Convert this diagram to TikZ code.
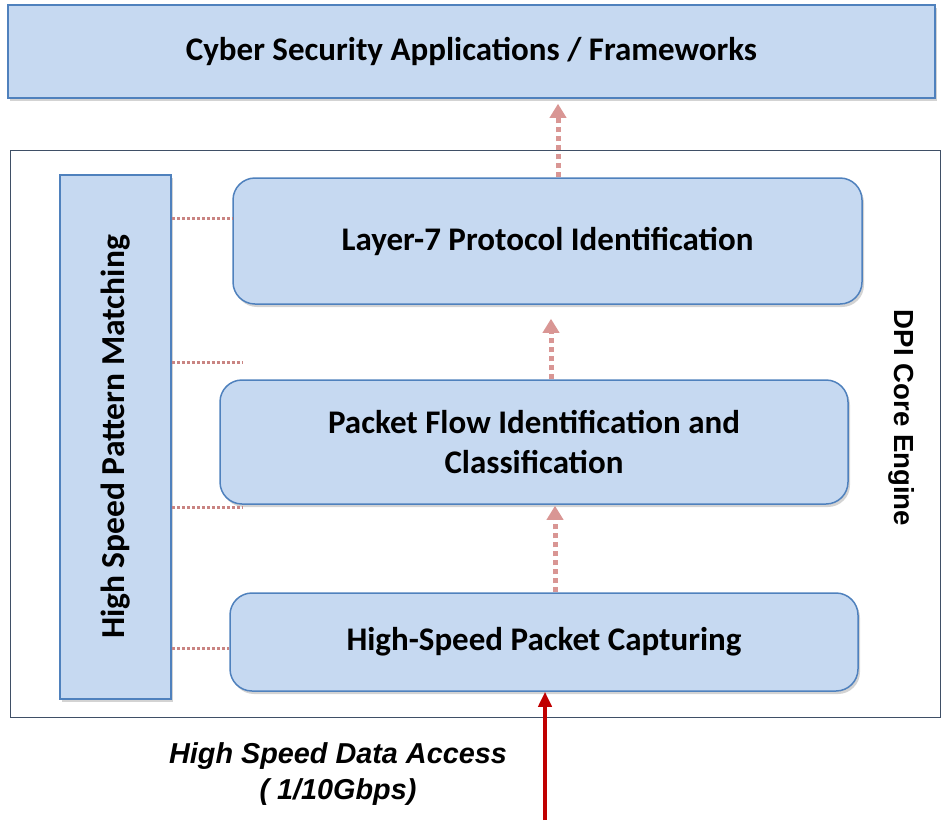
\documentclass[tikz,border=0pt]{standalone}
\usepackage{fontspec}
\setmainfont{Carlito}
\newfontfamily\arialfont{Liberation Sans}
\usetikzlibrary{arrows.meta,shadows}
\definecolor{boxfill}{HTML}{C6D9F1}
\definecolor{boxline}{HTML}{4F81BD}
\definecolor{dotcol}{HTML}{D99694}
\definecolor{linkcol}{HTML}{C98482}
\definecolor{redarrow}{HTML}{C00000}
\definecolor{framecol}{HTML}{3F4F66}
\tikzset{
  bluebox/.style={draw=boxline, fill=boxfill, line width=1.5pt, align=center,
    font=\bfseries\fontsize{33}{40}\selectfont, inner sep=0pt,
    drop shadow={opacity=0.35, shadow xshift=2pt, shadow yshift=-3pt}},
  roundbox/.style={bluebox, rounded corners=22pt},
  dotarrow/.style={draw=dotcol, line width=5pt, dash pattern=on 5pt off 4pt,
    -{Triangle[width=16pt,length=14pt]}},
  linkline/.style={draw=linkcol, line width=3pt, dash pattern=on 3pt off 2pt},
}
\begin{document}
\begin{tikzpicture}[x=1pt,y=-1pt]
\useasboundingbox (0,0) rectangle (944,825);
% outer frame
\node[draw=framecol, line width=1pt, minimum width=930pt, minimum height=567pt, inner sep=0pt] (frame) at (475,433.5) {};
% top box
\node[bluebox, minimum width=927pt, minimum height=93pt] (top) at (471.5,51.5) {Cyber Security Applications / Frameworks};
% left vertical box
\node[bluebox, minimum width=111pt, minimum height=524pt] (left) at (115.5,437) {};
\node[rotate=90, font=\bfseries\fontsize{33.5}{40}\selectfont] (lefttext) at (left.center) {High Speed Pattern Matching};
% stage boxes
\node[roundbox, minimum width=629pt, minimum height=126pt] (l7) at (547.5,241) {Layer-7 Protocol Identification};
\node[roundbox, minimum width=628pt, minimum height=124pt] (pf) at (534,442) {Packet Flow Identification and\\Classification};
\node[roundbox, minimum width=628pt, minimum height=98pt] (hs) at (544,642) {High-Speed Packet Capturing};
% DPI label
\node[rotate=-90, font=\arialfont\bfseries\fontsize{27.6}{32}\selectfont] (dpi) at (902,418) {DPI Core Engine};
% dotted arrows
\coordinate (ax1) at (558,0);
\coordinate (ax2) at (551,0);
\coordinate (ax3) at (555,0);
\draw[dotarrow, shorten >=5pt] (l7.north -| ax1) -- (top.south -| ax1);
\draw[dotarrow, shorten >=14pt] (pf.north -| ax2) -- (l7.south -| ax2);
\draw[dotarrow, shorten >=1pt] (hs.north -| ax3) -- (pf.south -| ax3);
% link lines
\coordinate (y1) at (0,218);
\coordinate (y2) at (0,362);
\coordinate (y3) at (0,507);
\coordinate (y4) at (0,648);
\coordinate (e2) at (243,362);
\coordinate (e3) at (243,507);
\draw[linkline] (left.east |- y1) -- (l7.west |- y1);
\draw[linkline] (left.east |- y2) -- (e2);
\draw[linkline] (left.east |- y3) -- (e3);
\draw[linkline] (left.east |- y4) -- (hs.west |- y4);
% input arrow
\coordinate (in) at (545,820);
\draw[draw=redarrow, line width=4pt, -{Triangle[width=13pt,length=15pt]}] (in) -- (hs.south -| in);
\node[font=\arialfont\bfseries\itshape\fontsize{28.8}{36}\selectfont, align=center] (speed) at (338,774) {High Speed Data Access\\( 1/10Gbps)};
\end{tikzpicture}
\end{document}
